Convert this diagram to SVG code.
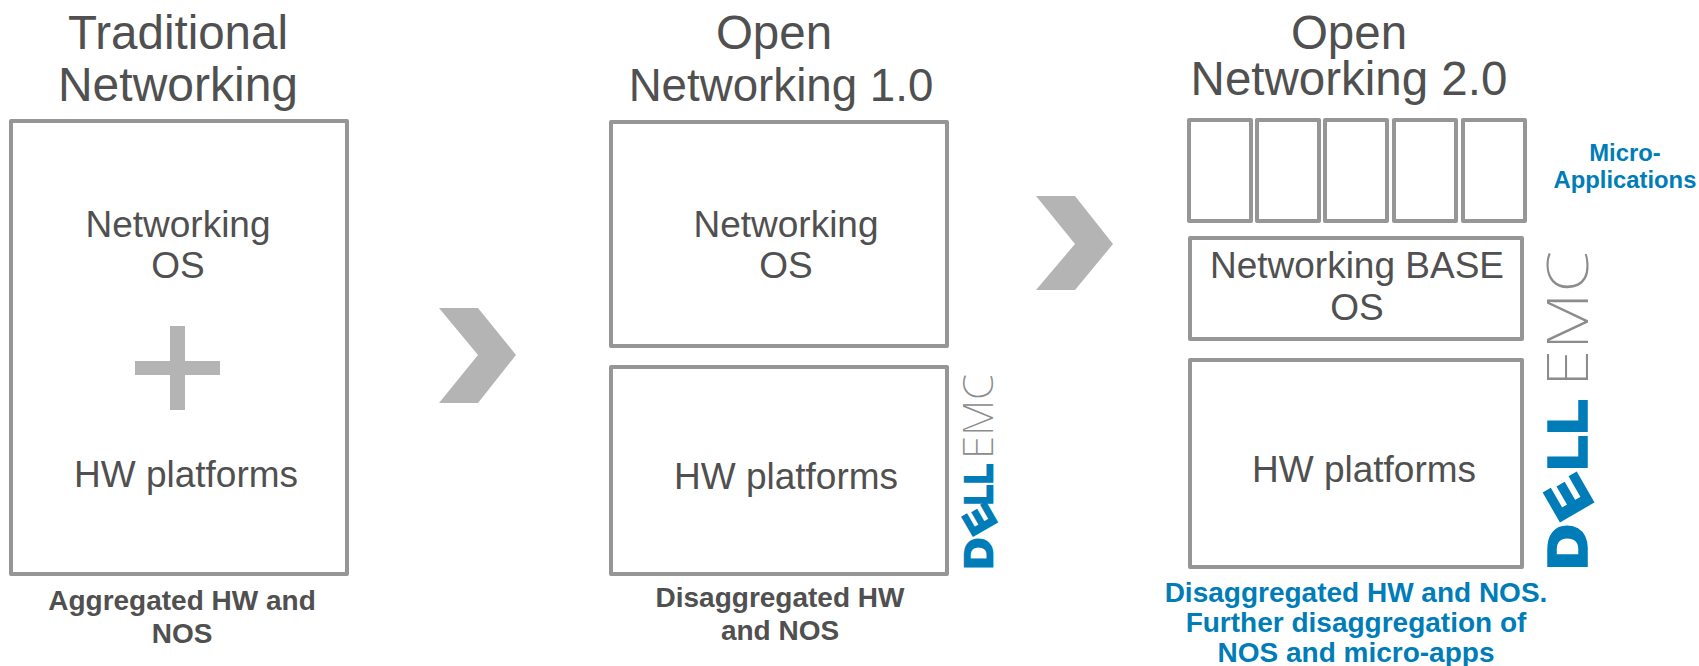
<svg xmlns="http://www.w3.org/2000/svg" width="1699" height="666" viewBox="0 0 1699 666">
<style>
text{font-family:"Liberation Sans",Arial,sans-serif;text-anchor:middle}
.b{fill:#fff;stroke:#969696;stroke-width:4;stroke-linejoin:round}
.t{font-size:47.5px;fill:#505050}
.m{font-size:37px;fill:#505050}
.k{font-size:28px;font-weight:bold;fill:#505050}
.c{font-size:28px;font-weight:bold;fill:#007db8}
.a{font-size:23.8px;font-weight:bold;fill:#007db8}
.g{fill:#b4b4b4}
.d{font-weight:bold;fill:#007db8;stroke:#007db8;text-anchor:start}
.d1{font-size:39px;stroke-width:2.5px}
.d2{font-size:53px;stroke-width:3.5px}
.e{font-family:"Noto Sans",sans-serif;font-weight:200;fill:#8c8c8c;text-anchor:start}
</style>
<rect width="1699" height="666" fill="#fff"/>
<g id="traditional">
<text class="t" x="178" y="49">Traditional</text>
<text class="t" x="178" y="101" style="font-size:48px">Networking</text>
<rect class="b" x="11" y="121" width="336" height="453"/>
<text class="m" x="178" y="237">Networking</text>
<text class="m" x="178" y="278">OS</text>
<rect class="g" x="135" y="361" width="85" height="14"/>
<rect class="g" x="170" y="326" width="15" height="84"/>
<text class="m" x="186" y="487">HW platforms</text>
<text class="k" x="182" y="610">Aggregated HW and</text>
<text class="k" x="182" y="643">NOS</text>
</g>
<g id="open1">
<text class="t" x="774" y="49">Open</text>
<text class="t" x="781" y="101" style="font-size:45.7px">Networking 1.0</text>
<rect class="b" x="611" y="122" width="336" height="224"/>
<text class="m" x="786" y="237">Networking</text>
<text class="m" x="786" y="278">OS</text>
<rect class="b" x="611" y="367" width="336" height="207"/>
<text class="m" x="786" y="489">HW platforms</text>
<text class="k" x="780" y="607">Disaggregated HW</text>
<text class="k" x="780" y="640">and NOS</text>
<g id="logo1">
<text class="e" transform="translate(993,459) rotate(-90)" style="font-size:43px" textLength="85" lengthAdjust="spacingAndGlyphs">EMC</text>
<text class="d d1" transform="translate(992,569) rotate(-90)" textLength="31" lengthAdjust="spacingAndGlyphs">D</text>
<text class="d d1" transform="translate(979,520) rotate(-120)" style="text-anchor:middle" dy=".36em" textLength="26" lengthAdjust="spacingAndGlyphs">E</text>
<text class="d d1" transform="translate(992,505) rotate(-90)" textLength="20" lengthAdjust="spacingAndGlyphs">L</text>
<text class="d d1" transform="translate(992,484) rotate(-90)" textLength="20" lengthAdjust="spacingAndGlyphs">L</text>
</g>
</g>
<g id="open2">
<text class="t" x="1349" y="49">Open</text>
<text class="t" x="1349" y="95">Networking 2.0</text>
<rect class="b" x="1189" y="120" width="62" height="101"/>
<rect class="b" x="1257" y="120" width="62" height="101"/>
<rect class="b" x="1325" y="120" width="62" height="101"/>
<rect class="b" x="1394" y="120" width="62" height="101"/>
<rect class="b" x="1463" y="120" width="62" height="101"/>
<text class="a" x="1625" y="161">Micro-</text>
<text class="a" x="1625" y="188">Applications</text>
<rect class="b" x="1190" y="238" width="332" height="101"/>
<text class="m" x="1357" y="278">Networking BASE</text>
<text class="m" x="1357" y="320">OS</text>
<rect class="b" x="1190" y="360" width="332" height="207"/>
<text class="m" x="1364" y="482">HW platforms</text>
<text class="c" x="1356" y="602">Disaggregated HW and NOS.</text>
<text class="c" x="1356" y="632">Further disaggregation of</text>
<text class="c" x="1356" y="662">NOS and micro-apps</text>
<g id="logo2">
<text class="e" transform="translate(1588,387) rotate(-90)" style="font-size:58px" textLength="136" lengthAdjust="spacingAndGlyphs">EMC</text>
<text class="d d2" transform="translate(1586,569) rotate(-90)" textLength="44" lengthAdjust="spacingAndGlyphs">D</text>
<text class="d d2" transform="translate(1568,498) rotate(-120)" style="text-anchor:middle" dy=".36em" textLength="38" lengthAdjust="spacingAndGlyphs">E</text>
<text class="d d2" transform="translate(1586,470) rotate(-90)" textLength="34" lengthAdjust="spacingAndGlyphs">L</text>
<text class="d d2" transform="translate(1586,434) rotate(-90)" textLength="34" lengthAdjust="spacingAndGlyphs">L</text>
</g>
</g>
<g id="connectors">
<polygon class="g" points="439,308 478,308 516,355 478,403 439,403 478,355"/>
<polygon class="g" points="1036,196 1075,196 1113,244 1075,290 1036,290 1075,244"/>
</g>
</svg>
